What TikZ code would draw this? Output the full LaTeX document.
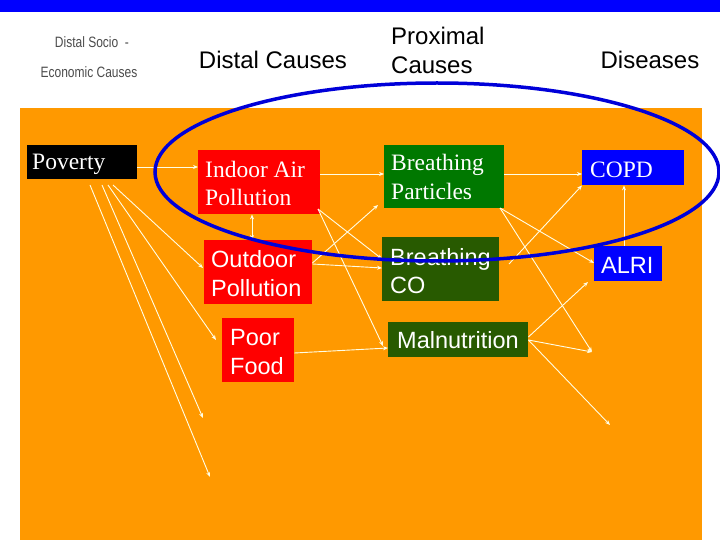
\documentclass[tikz,border=0pt]{standalone}
\usepackage{fontspec}
\usetikzlibrary{arrows.meta}
\setsansfont{Liberation Sans}
\setmainfont{Liberation Serif}
\definecolor{org}{RGB}{255,153,0}
\definecolor{gA}{RGB}{0,120,0}
\definecolor{gB}{RGB}{40,90,0}
\begin{document}
\begin{tikzpicture}[x=1pt,y=-1pt,
 bx/.style={anchor=north west,inner sep=0pt},
 tx/.style={anchor=base west,inner sep=0pt,text=white},
 se/.style={font=\rmfamily\fontsize{23.5}{28}\selectfont},
 sa/.style={font=\sffamily\fontsize{23.5}{28}\selectfont},
 ar/.style={draw=white!90!yellow,line width=0.9pt,-{Stealth[length=5pt,width=4pt]}},
 hd/.style={font=\sffamily\fontsize{24}{29}\selectfont,anchor=base,inner sep=0pt}]
\useasboundingbox (0,0) rectangle (720,540);
\fill[white] (0,0) rectangle (720,540);
\fill[blue] (0,0) rectangle (720,12);
\fill[org] (20,108) rectangle (702,540);
\node[font=\sffamily\fontsize{15}{17}\selectfont,text=black!70,xscale=0.8] (s1) at (92,42) {Distal Socio~~-};
\node[font=\sffamily\fontsize{15}{17}\selectfont,text=black!70,xscale=0.8] (s2) at (89,72) {Economic Causes};
\node[hd] (h1) at (273,69) {Distal Causes};
\node[hd,anchor=base west] (h2a) at (391,45) {Proximal};
\node[hd,anchor=base west] (h2b) at (391,74) {Causes};
\node[hd] (h3) at (650,69) {Diseases};
% boxes
\node[bx,fill=black,minimum width=110pt,minimum height=34pt] (pov) at (27,145) {};
\node[bx,fill=red,minimum width=122pt,minimum height=64pt] (ind) at (198,150) {};
\node[bx,fill=red,minimum width=108pt,minimum height=64pt] (out) at (204,240) {};
\node[bx,fill=red,minimum width=72pt,minimum height=64pt] (food) at (222,318) {};
\node[bx,fill=gA,minimum width=120pt,minimum height=63pt] (bp) at (384,145) {};
\node[bx,fill=gB,minimum width=117pt,minimum height=64pt] (bco) at (382,237) {};
\node[bx,fill=gB,minimum width=140pt,minimum height=35pt] (mal) at (388,322) {};
\node[bx,fill=blue,minimum width=102pt,minimum height=35pt] (copd) at (582,150) {};
\node[bx,fill=blue,minimum width=68pt,minimum height=35pt] (alri) at (594,246) {};
% labels
\node[tx,se] (t1) at (32,170) {Poverty};
\node[tx,se] (t2) at (205,178) {Indoor Air};
\node[tx,se] (t3) at (205,206) {Pollution};
\node[tx,sa] (t4) at (211,267) {Outdoor};
\node[tx,sa] (t5) at (211,296) {Pollution};
\node[tx,sa] (t6) at (230,345) {Poor};
\node[tx,sa] (t7) at (230,374) {Food};
\node[tx,se] (t8) at (391,171) {Breathing};
\node[tx,se] (t9) at (391,200) {Particles};
\node[tx,sa] (t10) at (390,265) {Breathing};
\node[tx,sa] (t11) at (390,293) {CO};
\node[tx,sa] (t12) at (397,348) {Malnutrition};
\node[tx,se] (t13) at (590,178) {COPD};
\node[tx,sa] (t14) at (601,273) {ALRI};
% free ends
\coordinate (e1) at (203,418);
\coordinate (e2) at (210,477);
\coordinate (e3) at (592,352);
\coordinate (e4) at (610,425);
% arrows
\draw[ar] (pov.east|-0,167) -- (ind.west|-0,167);
\draw[ar] (113,185) -- (203,268);
\draw[ar] (108,185) -- (216,340);
\draw[ar] (102,185) -- (e1);
\draw[ar] (90,185) -- (e2);
\draw[ar,{Stealth[length=5pt,width=4pt]}-{Stealth[length=5pt,width=4pt]}] (ind.south-|252,0) -- (out.north-|252,0);
\draw[ar] (ind.east|-0,174) -- (bp.west|-0,174);
\draw[ar] (318,209) -- (bco.west|-0,259);
\draw[ar] (318,209) -- (383,346);
\draw[ar] (out.east|-0,263) -- (378,205);
\draw[ar] (out.east|-0,264) -- (bco.west|-0,268);
\draw[ar] (food.east|-0,353) -- (mal.west|-0,348);
\draw[ar] (bp.east|-0,174) -- (copd.west|-0,174);
\draw[ar] (500,208) -- (alri.west|-0,263);
\draw[ar] (500,208) -- (e3);
\draw[ar] (509,264) -- (copd.south west);
\draw[ar] (alri.north-|624,0) -- (copd.south-|624,0);
\draw[ar] (mal.east|-0,337) -- (588,282);
\draw[ar] (mal.east|-0,340) -- (e3);
\draw[ar] (mal.east|-0,340) -- (e4);
% ellipse
\draw[blue!85!black,line width=3.5pt] (437,172) ellipse [x radius=282, y radius=89];
\end{tikzpicture}
\end{document}
